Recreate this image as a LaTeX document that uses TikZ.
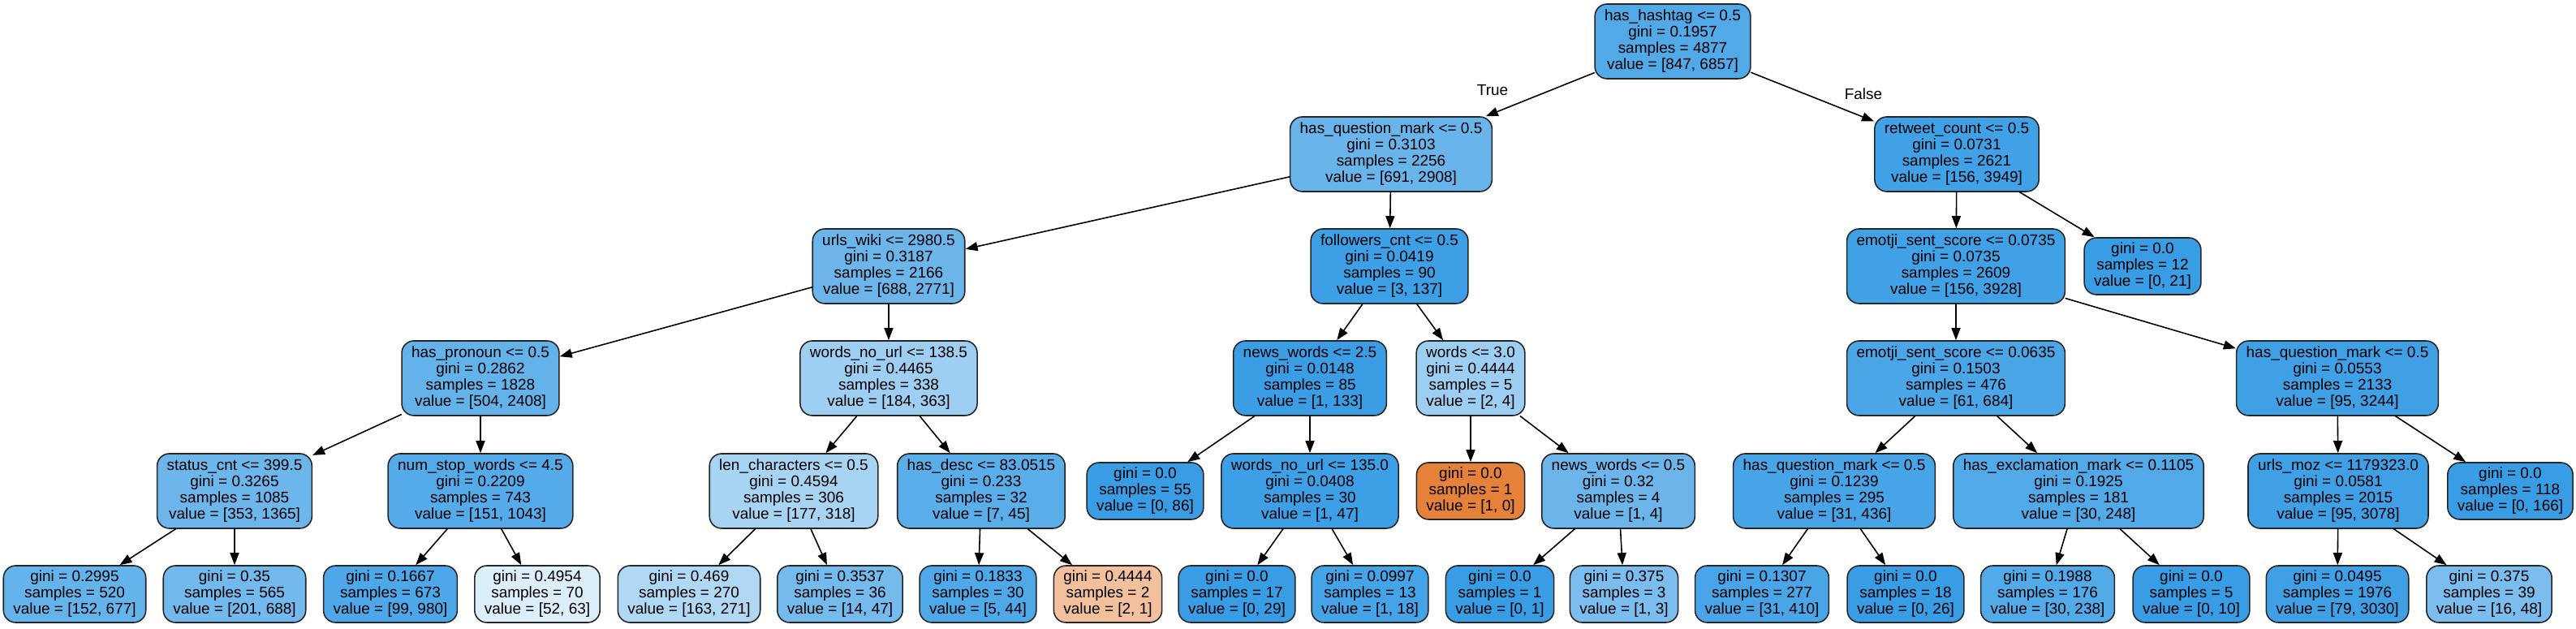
\documentclass[tikz,border=0pt]{standalone}
\usepackage{fontspec}
\setmainfont{Liberation Sans}
\usetikzlibrary{arrows.meta}
\definecolor{clsA}{RGB}{229,129,57}
\definecolor{clsB}{RGB}{57,157,229}
\newcommand{\treefont}{\fontsize{5.4pt}{5.7pt}\selectfont}
\tikzset{every text node part/.style={align=center}}
\tikzset{split/.style = {draw=black!85, line width=0.45pt, rounded corners=0.15cm,
						 font=\treefont, minimum height=0.92cm,
						 inner xsep=0.12cm, inner ysep=0pt}}
\tikzset{leaf/.style = {split, minimum height=0.70cm}}
\tikzset{edge/.style = {draw=black, line width=0.45pt,
						-{Triangle[length=0.15cm, width=0.11cm]}}}
\tikzset{elabel/.style = {font=\treefont, inner sep=0pt}}

\begin{document}
\begin{tikzpicture}[line cap=round, line join=round]
		% Frame
		\fill[white] (0,0) rectangle (31.74,-7.75);
		\useasboundingbox (0,0) rectangle (31.74,-7.75);

		% Level 0
		\node[split, fill=clsB!88] (n0) at (20.61,-0.51) {has\_hashtag <= 0.5\\gini = 0.1957\\samples = 4877\\value = [847, 6857]};

		% Level 1
		\node[split, fill=clsB!76] (n1) at (17.14,-1.90) {has\_question\_mark <= 0.5\\gini = 0.3103\\samples = 2256\\value = [691, 2908]};
		\node[split, fill=clsB!96] (n28) at (24.11,-1.90) {retweet\_count <= 0.5\\gini = 0.0731\\samples = 2621\\value = [156, 3949]};

		% Level 2
		\node[split, fill=clsB!75] (n2) at (10.95,-3.28) {urls\_wiki <= 2980.5\\gini = 0.3187\\samples = 2166\\value = [688, 2771]};
		\node[split, fill=clsB!98] (n17) at (17.12,-3.28) {followers\_cnt <= 0.5\\gini = 0.0419\\samples = 90\\value = [3, 137]};
		\node[split, fill=clsB!96] (n29) at (24.10,-3.28) {emotji\_sent\_score <= 0.0735\\gini = 0.0735\\samples = 2609\\value = [156, 3928]};
		\node[leaf, fill=clsB!100] (n42) at (26.40,-3.28) {gini = 0.0\\samples = 12\\value = [0, 21]};

		% Level 3
		\node[split, fill=clsB!79] (n3) at (5.92,-4.66) {has\_pronoun <= 0.5\\gini = 0.2862\\samples = 1828\\value = [504, 2408]};
		\node[split, fill=clsB!49] (n10) at (10.95,-4.66) {words\_no\_url <= 138.5\\gini = 0.4465\\samples = 338\\value = [184, 363]};
		\node[split, fill=clsB!99] (n18) at (16.14,-4.66) {news\_words <= 2.5\\gini = 0.0148\\samples = 85\\value = [1, 133]};
		\node[split, fill=clsB!50] (n23) at (18.12,-4.66) {words <= 3.0\\gini = 0.4444\\samples = 5\\value = [2, 4]};
		\node[split, fill=clsB!91] (n30) at (24.10,-4.66) {emotji\_sent\_score <= 0.0635\\gini = 0.1503\\samples = 476\\value = [61, 684]};
		\node[split, fill=clsB!97] (n37) at (28.80,-4.66) {has\_question\_mark <= 0.5\\gini = 0.0553\\samples = 2133\\value = [95, 3244]};

		% Level 4
		\node[split, fill=clsB!74] (n4) at (2.89,-6.05) {status\_cnt <= 399.5\\gini = 0.3265\\samples = 1085\\value = [353, 1365]};
		\node[split, fill=clsB!86] (n7) at (5.92,-6.05) {num\_stop\_words <= 4.5\\gini = 0.2209\\samples = 743\\value = [151, 1043]};
		\node[split, fill=clsB!44] (n11) at (9.78,-6.05) {len\_characters <= 0.5\\gini = 0.4594\\samples = 306\\value = [177, 318]};
		\node[split, fill=clsB!84] (n14) at (12.09,-6.05) {has\_desc <= 83.0515\\gini = 0.233\\samples = 32\\value = [7, 45]};
		\node[leaf, fill=clsB!100] (n19) at (14.11,-6.05) {gini = 0.0\\samples = 55\\value = [0, 86]};
		\node[split, fill=clsB!98] (n20) at (16.14,-6.05) {words\_no\_url <= 135.0\\gini = 0.0408\\samples = 30\\value = [1, 47]};
		\node[leaf, fill=clsA!100] (n24) at (18.12,-6.05) {gini = 0.0\\samples = 1\\value = [1, 0]};
		\node[split, fill=clsB!75] (n25) at (19.94,-6.05) {news\_words <= 0.5\\gini = 0.32\\samples = 4\\value = [1, 4]};
		\node[split, fill=clsB!93] (n31) at (22.60,-6.05) {has\_question\_mark <= 0.5\\gini = 0.1239\\samples = 295\\value = [31, 436]};
		\node[split, fill=clsB!88] (n34) at (25.61,-6.05) {has\_exclamation\_mark <= 0.1105\\gini = 0.1925\\samples = 181\\value = [30, 248]};
		\node[split, fill=clsB!97] (n38) at (28.81,-6.05) {urls\_moz <= 1179323.0\\gini = 0.0581\\samples = 2015\\value = [95, 3078]};
		\node[leaf, fill=clsB!100] (n41) at (30.93,-6.05) {gini = 0.0\\samples = 118\\value = [0, 166]};

		% Level 5
		\node[leaf, fill=clsB!78] (n5) at (0.92,-7.32) {gini = 0.2995\\samples = 520\\value = [152, 677]};
		\node[leaf, fill=clsB!71] (n6) at (2.89,-7.32) {gini = 0.35\\samples = 565\\value = [201, 688]};
		\node[leaf, fill=clsB!90] (n8) at (4.81,-7.32) {gini = 0.1667\\samples = 673\\value = [99, 980]};
		\node[leaf, fill=clsB!17] (n9) at (6.62,-7.32) {gini = 0.4954\\samples = 70\\value = [52, 63]};
		\node[leaf, fill=clsB!40] (n12) at (8.49,-7.32) {gini = 0.469\\samples = 270\\value = [163, 271]};
		\node[leaf, fill=clsB!70] (n13) at (10.35,-7.32) {gini = 0.3537\\samples = 36\\value = [14, 47]};
		\node[leaf, fill=clsB!89] (n15) at (12.05,-7.32) {gini = 0.1833\\samples = 30\\value = [5, 44]};
		\node[leaf, fill=clsA!50] (n16) at (13.65,-7.32) {gini = 0.4444\\samples = 2\\value = [2, 1]};
		\node[leaf, fill=clsB!100] (n21) at (15.24,-7.32) {gini = 0.0\\samples = 17\\value = [0, 29]};
		\node[leaf, fill=clsB!94] (n22) at (16.88,-7.32) {gini = 0.0997\\samples = 13\\value = [1, 18]};
		\node[leaf, fill=clsB!100] (n26) at (18.48,-7.32) {gini = 0.0\\samples = 1\\value = [0, 1]};
		\node[leaf, fill=clsB!67] (n27) at (20.01,-7.32) {gini = 0.375\\samples = 3\\value = [1, 3]};
		\node[leaf, fill=clsB!92] (n32) at (21.71,-7.32) {gini = 0.1307\\samples = 277\\value = [31, 410]};
		\node[leaf, fill=clsB!100] (n33) at (23.48,-7.32) {gini = 0.0\\samples = 18\\value = [0, 26]};
		\node[leaf, fill=clsB!87] (n35) at (25.23,-7.32) {gini = 0.1988\\samples = 176\\value = [30, 238]};
		\node[leaf, fill=clsB!100] (n36) at (27.00,-7.32) {gini = 0.0\\samples = 5\\value = [0, 10]};
		\node[leaf, fill=clsB!97] (n39) at (28.80,-7.32) {gini = 0.0495\\samples = 1976\\value = [79, 3030]};
		\node[leaf, fill=clsB!67] (n40) at (30.67,-7.32) {gini = 0.375\\samples = 39\\value = [16, 48]};

		% Edges
		\foreach \a/\b in {0/1, 0/28, 1/2, 1/17, 2/3, 2/10, 3/4, 3/7, 4/5, 4/6, 7/8, 7/9,
			10/11, 10/14, 11/12, 11/13, 14/15, 14/16, 17/18, 17/23, 18/19, 18/20,
			20/21, 20/22, 23/24, 23/25, 25/26, 25/27, 28/29, 28/42, 29/30, 29/37,
			30/31, 30/34, 31/32, 31/33, 34/35, 34/36, 37/38, 37/41, 38/39, 38/40}
			\draw[edge] (n\a) -- (n\b);

		% Edge labels
		\node[elabel] (ltrue) at (18.39,-1.11) {True};
		\node[elabel] (lfalse) at (22.96,-1.16) {False};
	\end{tikzpicture}
\end{document}
